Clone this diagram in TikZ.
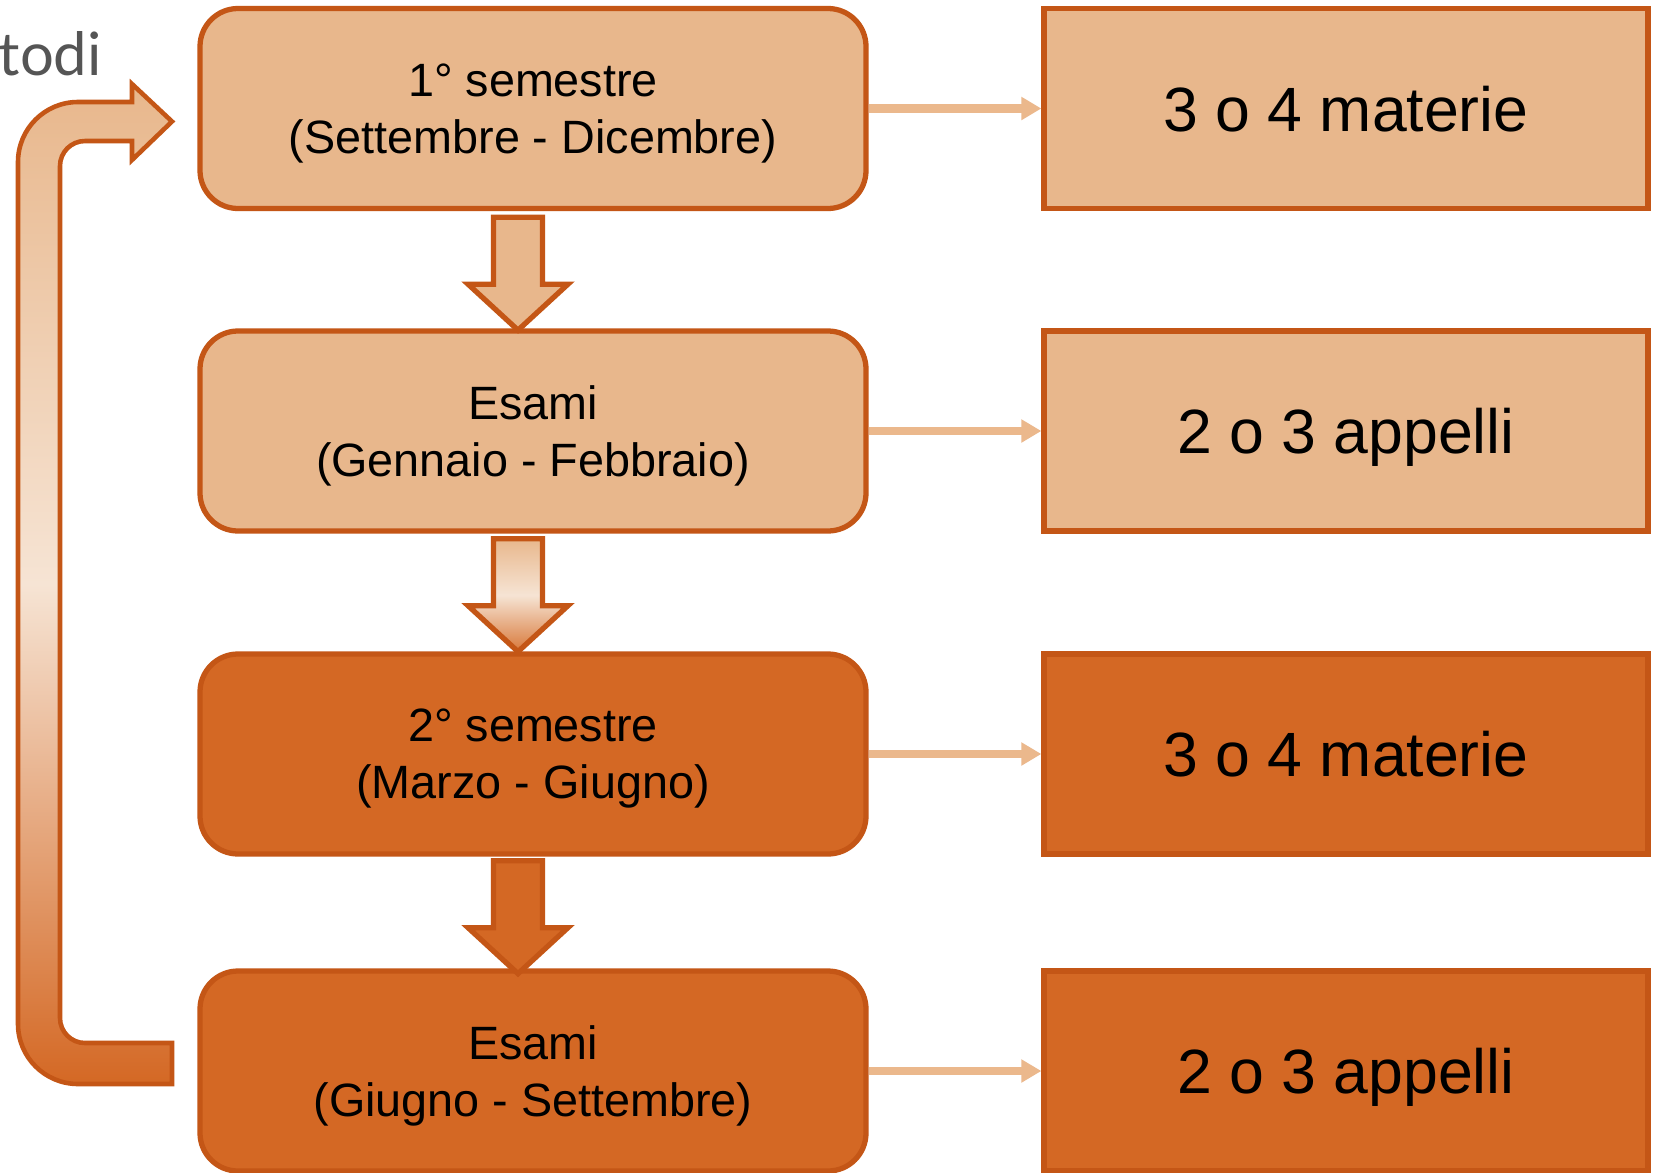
\documentclass[tikz,border=0pt]{standalone}
\usepackage{fontspec}
\setmainfont{Liberation Sans}
\newfontfamily\todifont{Lato}
\usetikzlibrary{arrows.meta,calc}
\definecolor{peach}{RGB}{232,183,140}
\definecolor{rust}{RGB}{212,104,36}
\definecolor{rim}{RGB}{196,86,22}
\definecolor{pale}{RGB}{246,228,212}
\definecolor{linkcol}{RGB}{235,184,140}
\definecolor{greytext}{RGB}{85,85,85}
\def\fatarrow[#1](#2){\draw[#1] ($(#2)+(-0.245,0)$) -- ++(0,-0.67) -- ++(-0.255,0) -- ++(0.5,-0.46) -- ++(0.5,0.46) -- ++(-0.255,0) -- ++(0,0.67) -- cycle;}

\begin{document}
\begin{tikzpicture}[
	phase/.style={draw=rim, line width=1.5pt, rounded corners=0.38cm, minimum width=6.66cm, minimum height=2cm, align=center, text depth=-1pt, font=\fontsize{13.3}{16.2}\selectfont},
	count/.style={draw=rim, line width=1.5pt, minimum width=6.04cm, minimum height=2cm, text depth=-0.5pt, font=\fontsize{17.8}{20}\selectfont},
	link/.style={draw=linkcol, line width=2.5pt, -{Triangle[length=0.2cm,width=0.22cm]}},
	rimline/.style={draw=rim, line width=1.5pt}
]
			%%%%% START %%%%%
			\clip (0,0) rectangle (16.6,-11.72);
			\fill[white] (0,0) rectangle (16.6,-11.72);
			
			\node[anchor=base west, inner sep=0, text=greytext, font=\todifont\fontsize{17}{20}\selectfont] (todi) at (-0.02,-0.75) {todi};
			
			\node[phase, fill=peach] (sem1) at (5.33,-1.085) {1° semestre\\(Settembre - Dicembre)};
			\node[phase, fill=peach] (esami1) at (5.33,-4.31) {Esami\\(Gennaio - Febbraio)};
			\node[phase, fill=rust] (sem2) at (5.33,-7.54) {2° semestre\\(Marzo - Giugno)};
			\node[phase, fill=rust] (esami2) at (5.33,-10.71) {Esami\\(Giugno - Settembre)};
			
			\node[count, fill=peach] (mat1) at (13.46,-1.085) {3 o 4 materie};
			\node[count, fill=peach] (app1) at (13.46,-4.31) {2 o 3 appelli};
			\node[count, fill=rust] (mat2) at (13.46,-7.54) {3 o 4 materie};
			\node[count, fill=rust] (app2) at (13.46,-10.71) {2 o 3 appelli};
			
			\draw[link] (sem1) -- (mat1);
			\draw[link] (esami1) -- (app1);
			\draw[link] (sem2) -- (mat2);
			\draw[link] (esami2) -- (app2);
			
			\coordinate (d1) at ($(sem1.south)+(-0.15,-0.06)$);
			\coordinate (d2) at ($(esami1.south)+(-0.15,-0.05)$);
			\coordinate (d3) at ($(sem2.south)+(-0.15,-0.04)$);
			\fatarrow[rimline, fill=peach](d1)
			\fatarrow[rimline, top color=peach, bottom color=rust!80!peach, middle color=pale](d2)
			\fatarrow[rimline, fill=rust](d3)
			
			% loop back to the first semester
			\draw[rimline, line width=1.3pt, top color=peach, bottom color=rust, middle color=pale]
				(1.72,-10.84) -- (0.78,-10.84) arc[start angle=270, end angle=180, radius=0.6]
				-- (0.18,-1.62) arc[start angle=180, end angle=90, radius=0.6]
				-- (1.32,-1.02) -- (1.32,-0.84) -- (1.72,-1.215) -- (1.32,-1.60) -- (1.32,-1.41)
				-- (0.85,-1.41) arc[start angle=90, end angle=180, radius=0.25]
				-- (0.60,-10.18) arc[start angle=180, end angle=270, radius=0.25]
				-- (1.72,-10.43) -- cycle;
			%%%%% END %%%%%
\end{tikzpicture}
\end{document}
